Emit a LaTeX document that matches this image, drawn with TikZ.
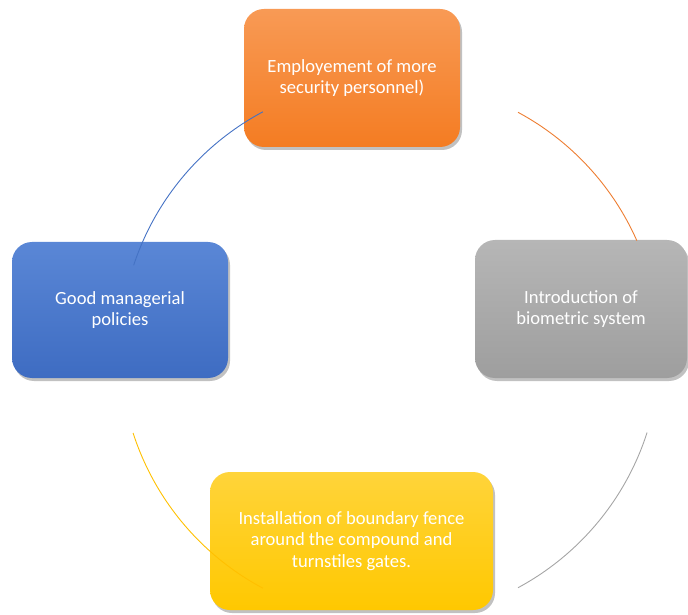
\documentclass[tikz,border=0pt]{standalone}
\usepackage{fontspec}
\setmainfont{Carlito}
\usetikzlibrary{shadows}
\definecolor{orA}{HTML}{F89A55}
\definecolor{orB}{HTML}{F47C22}
\definecolor{orL}{HTML}{ED7D31}
\definecolor{grA}{HTML}{B6B6B6}
\definecolor{grB}{HTML}{9E9E9E}
\definecolor{grL}{HTML}{A5A5A5}
\definecolor{yeA}{HTML}{FFD43A}
\definecolor{yeB}{HTML}{FFC800}
\definecolor{yeL}{HTML}{FFC000}
\definecolor{blA}{HTML}{5A87D6}
\definecolor{blB}{HTML}{3E6CC2}
\definecolor{blL}{HTML}{4472C4}
\tikzset{
  cyclebox/.style={rectangle, rounded corners=20pt, align=center, text=white,
    font=\fontsize{18.6}{21.8}\selectfont, inner sep=0pt,
    drop shadow={shadow xshift=2pt, shadow yshift=-3pt, opacity=0.35, fill=black!70}},
  cyclearc/.style={line width=0.9pt}
}
\begin{document}
\begin{tikzpicture}[x=1pt,y=1pt]
\useasboundingbox (0,0) rectangle (688,614);
\coordinate (c) at (390,264);
\node[cyclebox, top color=orA, bottom color=orB, minimum width=216pt, minimum height=138pt]
  (emp) at (352,536) {Employement of more\\security personnel)};
\node[cyclebox, top color=grA, bottom color=grB, minimum width=212pt, minimum height=138pt]
  (bio) at (581,305) {Introduction of\\biometric system};
\node[cyclebox, top color=yeA, bottom color=yeB, minimum width=283pt, minimum height=138pt]
  (fen) at (351.5,73) {Installation of boundary fence\\around the compound and\\turnstiles gates.};
\node[cyclebox, top color=blA, bottom color=blB, minimum width=216pt, minimum height=136pt]
  (pol) at (120,304) {Good managerial\\policies};
\draw[cyclearc, orL] (c) ++(61.7:270) arc[start angle=61.7, end angle=23.9, radius=270];
\draw[cyclearc, grL] (c) ++(-17.8:270) arc[start angle=-17.8, end angle=-61.7, radius=270];
\draw[cyclearc, yeL] (c) ++(-118.1:270) arc[start angle=-118.1, end angle=-162.1, radius=270];
\draw[cyclearc, blL] (c) ++(161.7:270) arc[start angle=161.7, end angle=118.1, radius=270];
\end{tikzpicture}
\end{document}
